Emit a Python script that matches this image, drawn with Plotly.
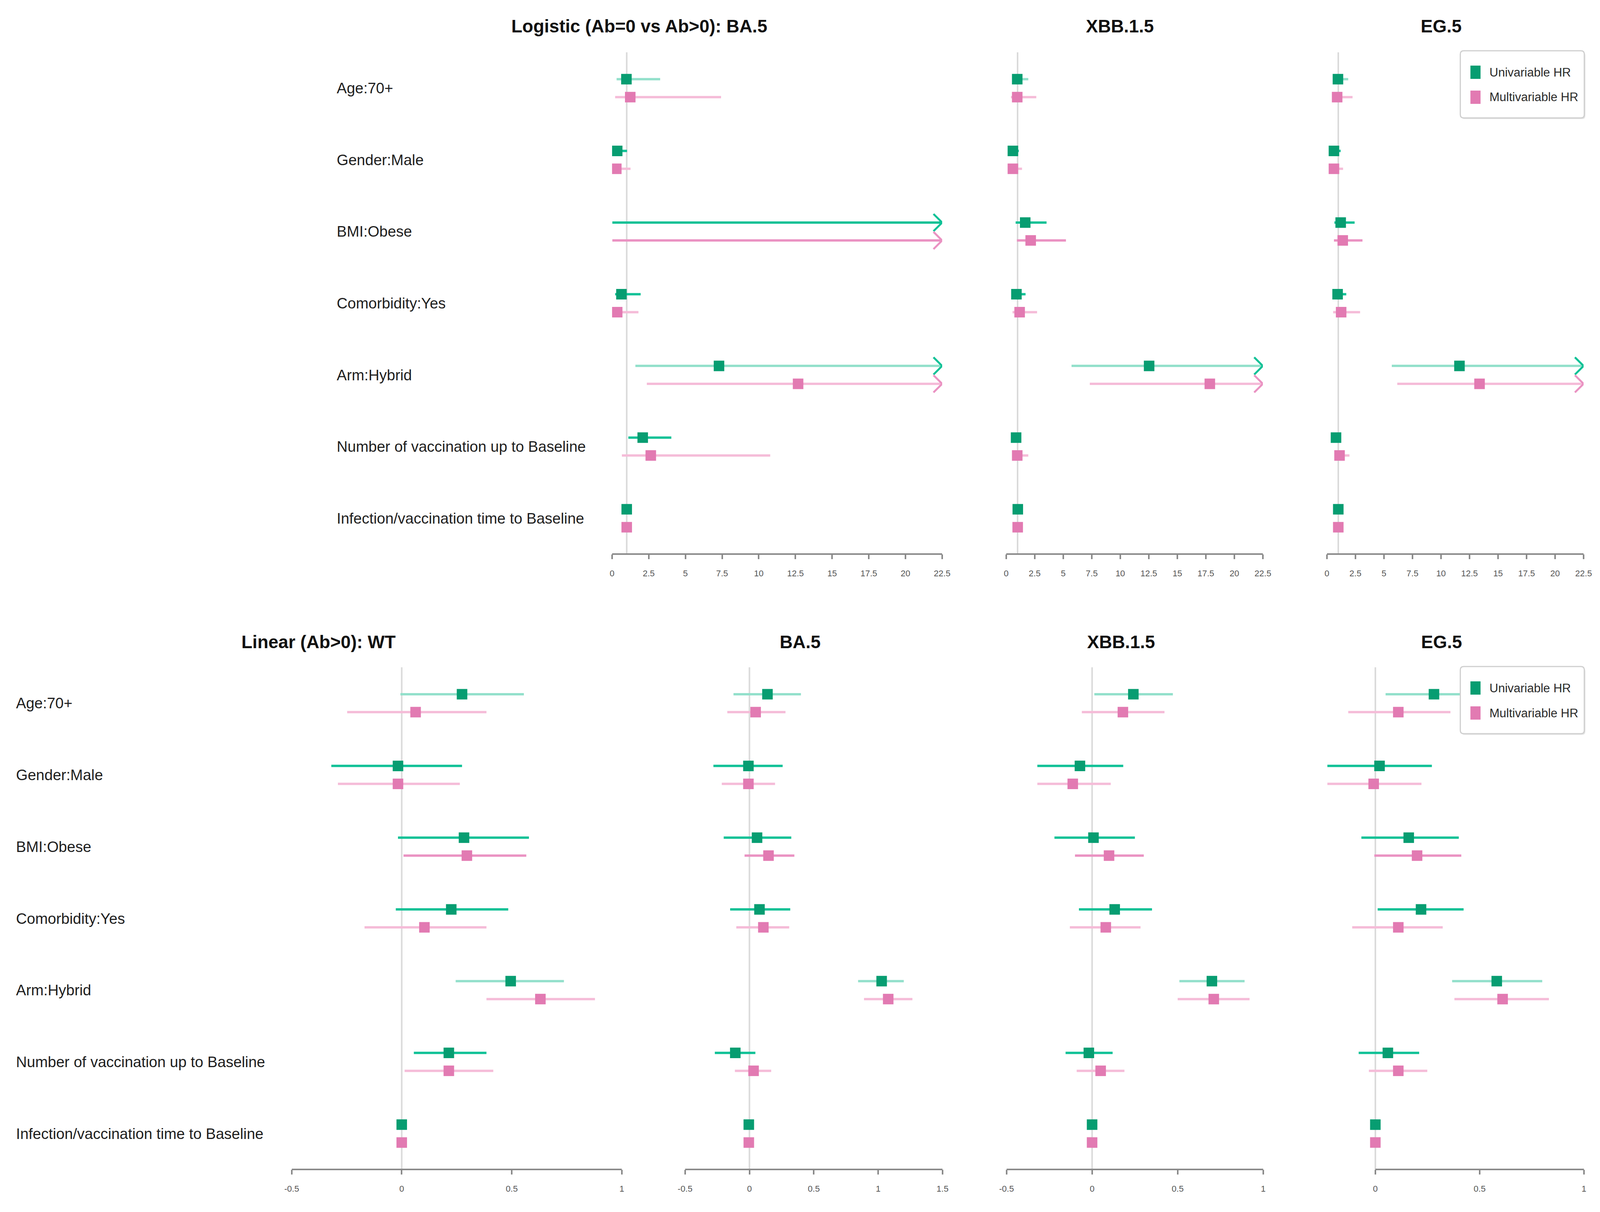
import math
import plotly.graph_objects as go

# design space = reference pixels (4419 x 3104); visible page is ~4092 x 3104 CSS px
W, H = 4419, 3104
W_VIS, H_VIS = 4092, 3104
SX = W_VIS / W
SY = H_VIS / H
BODY = 8
FIG_W = W_VIS - 2 * BODY
FIG_H = H_VIS - 2 * BODY - 4
CX, C0 = 1.0085, -17.0   # small empirical horizontal correction
INF = math.inf

# ---------------- data ----------------
ROW_LABELS = ["Age:70+", "Gender:Male", "BMI:Obese", "Comorbidity:Yes", "Arm:Hybrid",
              "Number of vaccination up to Baseline", "Infection/vaccination time to Baseline"]

TOP_TITLES = ["Logistic (Ab=0 vs Ab>0): BA.5", "XBB.1.5", "EG.5"]
BOTTOM_TITLES = ["Linear (Ab>0): WT", "BA.5", "XBB.1.5", "EG.5"]
LEGEND_NAMES = ["Univariable HR", "Multivariable HR"]

TOP_TICKS = [0, 2.5, 5, 7.5, 10, 12.5, 15, 17.5, 20, 22.5]
TOP_TICK_TEXT = ["0", "2.5", "5", "7.5", "10", "12.5", "15", "17.5", "20", "22.5"]
WT_TICKS = [-0.5, 0, 0.5, 1]
WT_TICK_TEXT = ["-0.5", "0", "0.5", "1"]
BA5_TICKS = [-0.5, 0, 0.5, 1, 1.5]
BA5_TICK_TEXT = ["-0.5", "0", "0.5", "1", "1.5"]
XBB_TICKS = [-0.5, 0, 0.5, 1]
XBB_TICK_TEXT = ["-0.5", "0", "0.5", "1"]
EG5_TICKS = [0, 0.5, 1]
EG5_TICK_TEXT = ["0", "0.5", "1"]

# Logistic BA.5 (BMI estimate off scale)
log_ba5_uni = [0.98, 0.35, None, 0.64, 7.29, 2.09, 1.00]
log_ba5_uni_lo = [0.31, 0.12, 0.02, 0.21, 1.59, 1.11, 0.97]
log_ba5_uni_hi = [3.28, 1.02, INF, 1.95, INF, 4.04, 1.03]
log_ba5_mul = [1.24, 0.29, None, 0.35, 12.68, 2.64, 1.00]
log_ba5_mul_lo = [0.21, 0.08, 0.02, 0.09, 2.37, 0.67, 0.97]
log_ba5_mul_hi = [7.43, 1.26, INF, 1.80, INF, 10.78, 1.03]

# Logistic XBB.1.5
log_xbb_uni = [0.97, 0.59, 1.67, 0.90, 12.53, 0.87, 1.02]
log_xbb_uni_lo = [0.52, 0.35, 0.83, 0.55, 5.73, 0.70, 0.99]
log_xbb_uni_hi = [1.94, 1.11, 3.54, 1.70, INF, 1.28, 1.06]
log_xbb_mul = [0.97, 0.59, 2.15, 1.18, 17.85, 0.97, 1.01]
log_xbb_mul_lo = [0.42, 0.30, 0.94, 0.56, 7.33, 0.65, 0.98]
log_xbb_mul_hi = [2.64, 1.39, 5.24, 2.71, INF, 1.94, 1.04]

# Logistic EG.5
log_eg5_uni = [0.97, 0.62, 1.21, 0.94, 11.62, 0.80, 1.00]
log_eg5_uni_lo = [0.55, 0.35, 0.66, 0.60, 5.69, 0.60, 0.97]
log_eg5_uni_hi = [1.87, 1.21, 2.43, 1.70, INF, 1.21, 1.03]
log_eg5_mul = [0.90, 0.62, 1.39, 1.25, 13.38, 1.11, 1.00]
log_eg5_mul_lo = [0.45, 0.30, 0.62, 0.55, 6.17, 0.80, 0.97]
log_eg5_mul_hi = [2.25, 1.42, 3.12, 2.91, INF, 1.98, 1.03]

# Linear WT
lin_wt_uni = [0.274, -0.017, 0.283, 0.225, 0.495, 0.214, 0.0]
lin_wt_uni_lo = [-0.006, -0.32, -0.017, -0.027, 0.245, 0.055, -0.002]
lin_wt_uni_hi = [0.555, 0.274, 0.578, 0.484, 0.737, 0.385, 0.002]
lin_wt_mul = [0.063, -0.017, 0.296, 0.103, 0.630, 0.214, 0.0]
lin_wt_mul_lo = [-0.248, -0.29, 0.008, -0.169, 0.385, 0.013, -0.002]
lin_wt_mul_hi = [0.385, 0.264, 0.566, 0.385, 0.878, 0.416, 0.002]

# Linear BA.5
lin_ba5_uni = [0.140, -0.008, 0.059, 0.078, 1.027, -0.110, -0.005]
lin_ba5_uni_lo = [-0.124, -0.28, -0.20, -0.15, 0.844, -0.269, -0.007]
lin_ba5_uni_hi = [0.40, 0.258, 0.325, 0.317, 1.199, 0.046, -0.003]
lin_ba5_mul = [0.048, -0.008, 0.148, 0.108, 1.078, 0.032, -0.005]
lin_ba5_mul_lo = [-0.172, -0.215, -0.038, -0.102, 0.890, -0.113, -0.007]
lin_ba5_mul_hi = [0.28, 0.199, 0.349, 0.309, 1.266, 0.169, -0.003]

# Linear XBB.1.5
lin_xbb_uni = [0.241, -0.071, 0.008, 0.132, 0.700, -0.019, 0.0]
lin_xbb_uni_lo = [0.013, -0.32, -0.22, -0.077, 0.51, -0.155, -0.002]
lin_xbb_uni_hi = [0.472, 0.182, 0.25, 0.35, 0.891, 0.12, 0.002]
lin_xbb_mul = [0.18, -0.113, 0.099, 0.08, 0.711, 0.05, 0.0]
lin_xbb_mul_lo = [-0.06, -0.32, -0.10, -0.13, 0.50, -0.09, -0.002]
lin_xbb_mul_hi = [0.423, 0.109, 0.302, 0.283, 0.92, 0.189, 0.002]

# Linear EG.5
lin_eg5_uni = [0.281, 0.02, 0.16, 0.219, 0.582, 0.06, 0.0]
lin_eg5_uni_lo = [0.049, -0.23, -0.067, 0.011, 0.368, -0.08, -0.002]
lin_eg5_uni_hi = [0.51, 0.271, 0.40, 0.423, 0.80, 0.21, 0.002]
lin_eg5_mul = [0.11, -0.008, 0.20, 0.11, 0.61, 0.11, 0.0]
lin_eg5_mul_lo = [-0.13, -0.23, -0.005, -0.111, 0.379, -0.031, -0.002]
lin_eg5_mul_hi = [0.36, 0.221, 0.412, 0.323, 0.832, 0.249, 0.002]

# ---------------- styles ----------------
UNI_STRONG = [False, True, True, True, False, True, True]
MUL_STRONG = [False, False, True, False, False, False, False]

FONT = "Liberation Sans, Arial, sans-serif"
GREEN_MK = "#079d71"
GREEN_STRONG = "#0fc196"
GREEN_LIGHT = "#93e0cb"
PINK_MK = "#e27ab2"
PINK_STRONG = "#ea92c2"
PINK_LIGHT = "#f5bcd8"
REF_COL = "#dadada"
AXIS_COL = "#8a8a8a"
TEXT_COL = "#1e1e1e"


def px(x):
    return ((CX * x + C0) * SX - BODY) / FIG_W


def py(y):
    return 1 - (y * SY - BODY) / FIG_H


TOP_Y = (134, 1419)
BOT_Y = (1709, 2995)
panels = [
    dict(d=(log_ba5_uni, log_ba5_uni_lo, log_ba5_uni_hi, log_ba5_mul, log_ba5_mul_lo, log_ba5_mul_hi),
         rng=(0, 22.5), dom=(1689, 2602), tv=TOP_TICKS, tt=TOP_TICK_TEXT, ref=1, yb=TOP_Y),
    dict(d=(log_xbb_uni, log_xbb_uni_lo, log_xbb_uni_hi, log_xbb_mul, log_xbb_mul_lo, log_xbb_mul_hi),
         rng=(0, 22.5), dom=(2779, 3489), tv=TOP_TICKS, tt=TOP_TICK_TEXT, ref=1, yb=TOP_Y),
    dict(d=(log_eg5_uni, log_eg5_uni_lo, log_eg5_uni_hi, log_eg5_mul, log_eg5_mul_lo, log_eg5_mul_hi),
         rng=(0, 22.5), dom=(3666, 4376), tv=TOP_TICKS, tt=TOP_TICK_TEXT, ref=1, yb=TOP_Y),
    dict(d=(lin_wt_uni, lin_wt_uni_lo, lin_wt_uni_hi, lin_wt_mul, lin_wt_mul_lo, lin_wt_mul_hi),
         rng=(-0.5, 1), dom=(803, 1716), tv=WT_TICKS, tt=WT_TICK_TEXT, ref=0, yb=BOT_Y),
    dict(d=(lin_ba5_uni, lin_ba5_uni_lo, lin_ba5_uni_hi, lin_ba5_mul, lin_ba5_mul_lo, lin_ba5_mul_hi),
         rng=(-0.5, 1.5), dom=(1891, 2603), tv=BA5_TICKS, tt=BA5_TICK_TEXT, ref=0, yb=BOT_Y),
    dict(d=(lin_xbb_uni, lin_xbb_uni_lo, lin_xbb_uni_hi, lin_xbb_mul, lin_xbb_mul_lo, lin_xbb_mul_hi),
         rng=(-0.5, 1), dom=(2780, 3490), tv=XBB_TICKS, tt=XBB_TICK_TEXT, ref=0, yb=BOT_Y),
    dict(d=(lin_eg5_uni, lin_eg5_uni_lo, lin_eg5_uni_hi, lin_eg5_mul, lin_eg5_mul_lo, lin_eg5_mul_hi),
         rng=(-0.3, 1), dom=(3627, 4377), tv=EG5_TICKS, tt=EG5_TICK_TEXT, ref=0, yb=BOT_Y),
]

fig = go.Figure()
shapes = []
annotations = []
layout_axes = {}

OFF = 0.125          # vertical offset of uni / multi rows (row units)
ARROW_DY = 0.12      # chevron half-height (row units)
ARROW_PX = 24        # chevron depth (design px)

for i, p in enumerate(panels):
    n = i + 1
    xa = "x" if n == 1 else f"x{n}"
    ya = "y" if n == 1 else f"y{n}"
    xkey = "xaxis" if n == 1 else f"xaxis{n}"
    ykey = "yaxis" if n == 1 else f"yaxis{n}"
    lo_r, hi_r = p["rng"]
    d0, d1 = p["dom"]
    dx = ARROW_PX * (hi_r - lo_r) / (d1 - d0)

    layout_axes[xkey] = dict(
        domain=[px(d0), px(d1)], range=[lo_r, hi_r], anchor=ya,
        showgrid=False, zeroline=False, showline=False,
        tickmode="array", tickvals=p["tv"], ticktext=p["tt"],
        ticks="outside", ticklen=12, tickwidth=3.5, tickcolor=AXIS_COL,
        tickfont=dict(family=FONT, size=22, color="#555555"),
        ticklabelstandoff=18,
    )
    layout_axes[ykey] = dict(
        domain=[py(p["yb"][1]), py(p["yb"][0])], range=[7.5, 0.5], anchor=xa,
        showgrid=False, zeroline=False, showline=False, showticklabels=False, ticks="",
    )
    shapes.append(dict(type="line", xref=xa, yref=ya, x0=p["ref"], x1=p["ref"], y0=0.5, y1=7.5,
                       line=dict(color=REF_COL, width=4), layer="below"))
    shapes.append(dict(type="line", xref=xa, yref=f"{ya} domain", x0=p["tv"][0], x1=p["tv"][-1],
                       y0=0, y1=0, line=dict(color=AXIS_COL, width=4), layer="above"))

    uni, uni_lo, uni_hi, mul, mul_lo, mul_hi = p["d"]
    series = [
        (uni, uni_lo, uni_hi, -OFF, UNI_STRONG, GREEN_STRONG, GREEN_LIGHT, GREEN_MK, LEGEND_NAMES[0]),
        (mul, mul_lo, mul_hi, +OFF, MUL_STRONG, PINK_STRONG, PINK_LIGHT, PINK_MK, LEGEND_NAMES[1]),
    ]
    for est, lo, hi, off, strong, c_strong, c_light, c_mk, name in series:
        for want_strong, col in ((True, c_strong), (False, c_light)):
            xs, ys = [], []
            for r in range(7):
                if strong[r] != want_strong:
                    continue
                yy = r + 1 + off
                xs += [lo[r], min(hi[r], hi_r), None]
                ys += [yy, yy, None]
            if xs:
                fig.add_trace(go.Scatter(x=xs, y=ys, xaxis=xa, yaxis=ya, mode="lines",
                                         line=dict(color=col, width=6), hoverinfo="skip",
                                         showlegend=False))
        ax_, ay_ = [], []
        for r in range(7):
            if hi[r] > hi_r:
                yy = r + 1 + off
                ax_ += [hi_r - dx, hi_r, hi_r - dx, None]
                ay_ += [yy - ARROW_DY, yy, yy + ARROW_DY, None]
        if ax_:
            fig.add_trace(go.Scatter(x=ax_, y=ay_, xaxis=xa, yaxis=ya, mode="lines",
                                     line=dict(color=c_strong, width=5), hoverinfo="skip",
                                     showlegend=False))
        fig.add_trace(go.Scatter(
            x=est, y=[r + 1 + off for r in range(7)], xaxis=xa, yaxis=ya, mode="markers",
            marker=dict(symbol="square", size=27, color=c_mk, line=dict(width=0)),
            name=name, showlegend=False))

# titles
for t, xc in zip(TOP_TITLES, [1764, 3094, 3982]):
    annotations.append(dict(text=f"<b>{t}</b>", x=px(xc), y=py(67), xref="paper", yref="paper",
                            showarrow=False, xanchor="center", yanchor="middle",
                            font=dict(family=FONT, size=46, color="#111111")))
for t, xc in zip(BOTTOM_TITLES, [877, 2209, 3097, 3983]):
    annotations.append(dict(text=f"<b>{t}</b>", x=px(xc), y=py(1644), xref="paper", yref="paper",
                            showarrow=False, xanchor="center", yanchor="middle",
                            font=dict(family=FONT, size=46, color="#111111")))

# row labels
for yref, xl in (("y", 925), ("y4", 38)):
    for r, lab in enumerate(ROW_LABELS):
        annotations.append(dict(text=lab, x=px(xl), y=r + 1, xref="paper", yref=yref,
                                showarrow=False, xanchor="left", yanchor="middle",
                                font=dict(family=FONT, size=38.5, color=TEXT_COL)))


def rounded_rect(x0, y0, x1, y1, r):
    X, Y = px, py
    return (f"M {X(x0 + r)} {Y(y0)} L {X(x1 - r)} {Y(y0)} Q {X(x1)} {Y(y0)} {X(x1)} {Y(y0 + r)} "
            f"L {X(x1)} {Y(y1 - r)} Q {X(x1)} {Y(y1)} {X(x1 - r)} {Y(y1)} "
            f"L {X(x0 + r)} {Y(y1)} Q {X(x0)} {Y(y1)} {X(x0)} {Y(y1 - r)} "
            f"L {X(x0)} {Y(y0 + r)} Q {X(x0)} {Y(y0)} {X(x0 + r)} {Y(y0)} Z")


for top in (130, 1707):
    shapes.append(dict(type="path", xref="paper", yref="paper",
                       path=rounded_rect(4038, top + 3, 4381, top + 175, 9),
                       fillcolor="#e6e6e6", line=dict(width=0), layer="above"))
    shapes.append(dict(type="path", xref="paper", yref="paper",
                       path=rounded_rect(4035, top, 4378, top + 172, 9),
                       fillcolor="white", line=dict(color="#cfcfcf", width=3), layer="above"))
    for k, (col, name) in enumerate(((GREEN_MK, LEGEND_NAMES[0]), (PINK_MK, LEGEND_NAMES[1]))):
        yc = top + 55 + 64 * k
        shapes.append(dict(type="rect", xref="paper", yref="paper",
                           x0=px(4063), x1=px(4091), y0=py(yc - 17), y1=py(yc + 17),
                           fillcolor=col, line=dict(width=0), layer="above"))
        annotations.append(dict(text=name, x=px(4114), y=py(yc), xref="paper", yref="paper",
                                showarrow=False, xanchor="left", yanchor="middle",
                                font=dict(family=FONT, size=31, color="#2a2a2a")))

fig.update_layout(
    height=FIG_H, autosize=True, margin=dict(l=0, r=0, t=0, b=0),
    paper_bgcolor="white", plot_bgcolor="white",
    showlegend=False, shapes=shapes, annotations=annotations,
    font=dict(family=FONT),
    **layout_axes,
)

fig.write_html("out.html")
